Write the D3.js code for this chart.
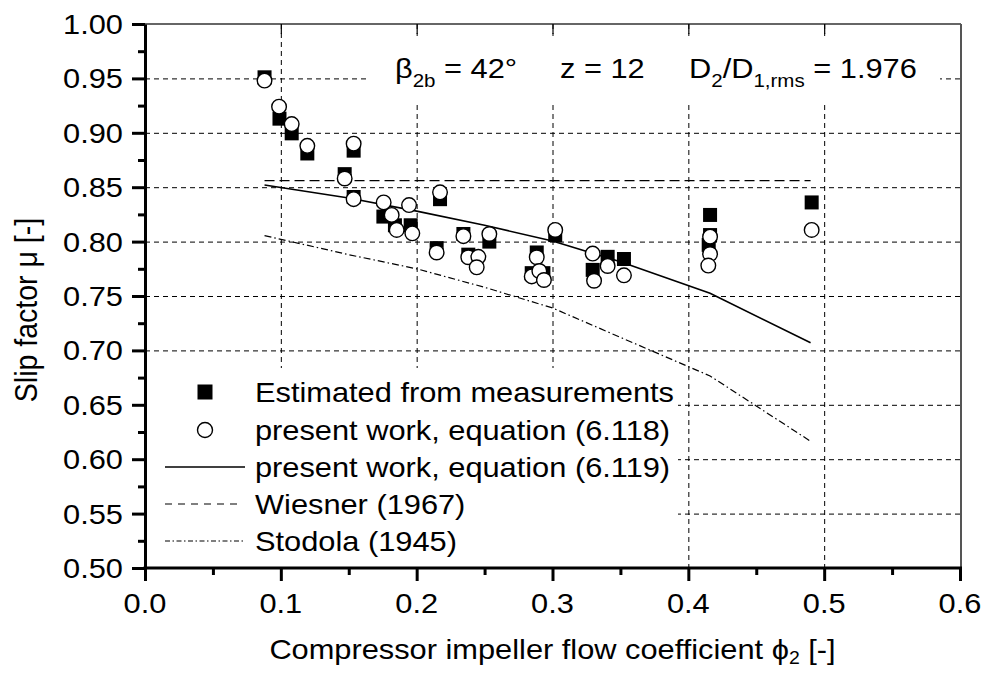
<!DOCTYPE html>
<html>
<head>
<meta charset="utf-8">
<script src="https://cdn.jsdelivr.net/npm/d3@7"></script>
<style>
  body { margin: 0; background: #fff; }
  text { font-family: Arial, "Liberation Sans", sans-serif; fill: #000; }
</style>
</head>
<body>
<svg id="chart" width="988" height="673"></svg>
<script>
// Slip factor estimated from measurements (filled squares)
const measuredPhi = [0.088, 0.099, 0.108, 0.1195, 0.147, 0.1536, 0.1536, 0.1755, 0.184, 0.1956,
  0.2172, 0.2147, 0.2344, 0.2535, 0.238, 0.2884, 0.2847, 0.2933, 0.302, 0.3296,
  0.3406, 0.3526, 0.416, 0.416, 0.415, 0.4908];
const measuredMu = [0.951, 0.913, 0.8995, 0.881, 0.862, 0.8836, 0.841, 0.823, 0.815, 0.815,
  0.839, 0.794, 0.807, 0.800, 0.788, 0.790, 0.771, 0.771, 0.806, 0.774,
  0.786, 0.784, 0.8245, 0.806, 0.797, 0.836];

// Equation (6.118) (open circles)
const eq118Phi = [0.088, 0.0987, 0.108, 0.1195, 0.147, 0.1536, 0.1536, 0.1757, 0.1816, 0.1853,
  0.1944, 0.1968, 0.2172, 0.2147, 0.2344, 0.2535, 0.238, 0.2454, 0.2442, 0.2884,
  0.2847, 0.2903, 0.2937, 0.302, 0.3296, 0.3306, 0.3406, 0.3526, 0.416, 0.416,
  0.4147, 0.4908];
const eq118Mu = [0.948, 0.924, 0.908, 0.888, 0.858, 0.890, 0.839, 0.836, 0.8245, 0.8107,
  0.8336, 0.8076, 0.8453, 0.790, 0.805, 0.807, 0.7856, 0.786, 0.7764, 0.7856,
  0.768, 0.773, 0.7647, 0.8107, 0.789, 0.764, 0.7776, 0.769, 0.8045, 0.7886,
  0.778, 0.8107];

// Equation (6.119) curve
const eq119Phi = [0.088, 0.15, 0.2, 0.25, 0.3, 0.35, 0.416, 0.49];
const eq119Mu = [0.852, 0.840, 0.828, 0.815, 0.8005, 0.7815, 0.7525, 0.707];

// Wiesner (1967)
const wiesnerPhi = [0.088, 0.49];
const wiesnerMu = [0.856, 0.856];

// Stodola (1945)
const stodolaPhi = [0.088, 0.15, 0.2, 0.25, 0.3, 0.35, 0.416, 0.49];
const stodolaMu = [0.8055, 0.788, 0.775, 0.758, 0.739, 0.712, 0.6765, 0.6165];

// Axis ticks
const xTicks = [0, 0.1, 0.2, 0.3, 0.4, 0.5, 0.6];
const xTickLabels = ["0.0", "0.1", "0.2", "0.3", "0.4", "0.5", "0.6"];
const yTicks = [0.50, 0.55, 0.60, 0.65, 0.70, 0.75, 0.80, 0.85, 0.90, 0.95, 1.00];
const yTickLabels = ["0.50", "0.55", "0.60", "0.65", "0.70", "0.75", "0.80", "0.85", "0.90", "0.95", "1.00"];
const xMinor = [0.05, 0.15, 0.25, 0.35, 0.45, 0.55];
const yMinor = [0.525, 0.575, 0.625, 0.675, 0.725, 0.775, 0.825, 0.875, 0.925, 0.975];

const legendLabels = [
  "Estimated from measurements",
  "present work, equation (6.118)",
  "present work, equation (6.119)",
  "Wiesner (1967)",
  "Stodola (1945)"
];

const SX = 1.08;   // glyph width factor
const FS = 28.5;   // base font size

const svg = d3.select("#chart");
const L = 145, R = 960, T = 24, B = 568;
const x = d3.scaleLinear().domain([0, 0.6]).range([L, R]);
const y = d3.scaleLinear().domain([0.5, 1.0]).range([B, T]);

function label(parent, px, py, txt, anchor, size) {
  return parent.append("text")
    .attr("transform", `translate(${px},${py}) scale(${SX},1)`)
    .attr("text-anchor", anchor || "start")
    .attr("font-size", size || FS)
    .text(txt);
}

// grid
const grid = svg.append("g").attr("stroke", "#000").attr("stroke-width", 1).attr("stroke-dasharray", "5,4");
grid.selectAll("line.h").data(yTicks.slice(1, -1)).join("line")
  .attr("x1", L).attr("x2", R).attr("y1", d => y(d) + 0.5).attr("y2", d => y(d) + 0.5);
grid.selectAll("line.v").data(xTicks.slice(1, -1)).join("line")
  .attr("y1", T).attr("y2", B).attr("x1", d => x(d) + 0.5).attr("x2", d => x(d) + 0.5);

// white panels behind annotation and legend
svg.append("rect").attr("x", 367).attr("y", 36).attr("width", 573).attr("height", 66).attr("fill", "#fff");
svg.append("rect").attr("x", L + 2).attr("y", 368).attr("width", 678 - L - 2).attr("height", B - 368 - 1).attr("fill", "#fff");

// curves
const line = d3.line().x(d => x(d[0])).y(d => y(d[1]));
svg.append("path").datum(d3.zip(stodolaPhi, stodolaMu)).attr("d", line)
  .attr("fill", "none").attr("stroke", "#000").attr("stroke-width", 1.2).attr("stroke-dasharray", "7,3,1.5,3");
svg.append("path").datum(d3.zip(wiesnerPhi, wiesnerMu)).attr("d", line)
  .attr("fill", "none").attr("stroke", "#000").attr("stroke-width", 1.3).attr("stroke-dasharray", "10,5");
svg.append("path").datum(d3.zip(eq119Phi, eq119Mu)).attr("d", line)
  .attr("fill", "none").attr("stroke", "#000").attr("stroke-width", 1.6);

// markers
const SQ = 14, CR = 7.3;
svg.append("g").selectAll("rect").data(d3.zip(measuredPhi, measuredMu)).join("rect")
  .attr("x", d => x(d[0]) - SQ / 2).attr("y", d => y(d[1]) - SQ / 2)
  .attr("width", SQ).attr("height", SQ).attr("fill", "#000");
svg.append("g").selectAll("circle").data(d3.zip(eq118Phi, eq118Mu)).join("circle")
  .attr("cx", d => x(d[0])).attr("cy", d => y(d[1])).attr("r", CR)
  .attr("fill", "#fff").attr("stroke", "#000").attr("stroke-width", 1.4);

// frame (top and right)
svg.append("line").attr("x1", L).attr("x2", R + 1).attr("y1", T).attr("y2", T).attr("stroke", "#333").attr("stroke-width", 1.5);
svg.append("line").attr("x1", R + 1).attr("x2", R + 1).attr("y1", T).attr("y2", B).attr("stroke", "#555").attr("stroke-width", 2);

// top axis ticks pointing inward
const topAxis = d3.axisBottom(x).tickValues(xTicks.slice(1, -1)).tickSize(10).tickFormat("");
svg.append("g").attr("transform", `translate(0,${T})`).call(topAxis)
  .call(g => g.select(".domain").remove())
  .selectAll("line").attr("stroke-width", 1.2);

// left axis
const leftAxis = d3.axisLeft(y).tickValues(yTicks).tickSize(13).tickSizeOuter(0).tickFormat("");
svg.append("g").attr("transform", `translate(${L},0)`).call(leftAxis)
  .call(g => g.select(".domain").attr("stroke-width", 3))
  .selectAll(".tick line").attr("stroke-width", 3);
const leftMinor = d3.axisLeft(y).tickValues(yMinor).tickSize(7).tickSizeOuter(0).tickFormat("");
svg.append("g").attr("transform", `translate(${L},0)`).call(leftMinor)
  .call(g => g.select(".domain").remove())
  .selectAll(".tick line").attr("stroke-width", 3);

// bottom axis
const bottomAxis = d3.axisBottom(x).tickValues(xTicks).tickSize(13).tickSizeOuter(0).tickFormat("");
svg.append("g").attr("transform", `translate(0,${B})`).call(bottomAxis)
  .call(g => g.select(".domain").attr("stroke-width", 3).attr("d", `M${L - 1.5},0H${R + 2}`))
  .selectAll(".tick line").attr("stroke-width", 3);
const bottomMinor = d3.axisBottom(x).tickValues(xMinor).tickSize(7).tickSizeOuter(0).tickFormat("");
svg.append("g").attr("transform", `translate(0,${B})`).call(bottomMinor)
  .call(g => g.select(".domain").remove())
  .selectAll(".tick line").attr("stroke-width", 3);

// tick labels
const labels = svg.append("g");
yTicks.forEach((v, i) => label(labels, L - 22, y(v) + 10, yTickLabels[i], "end"));
xTicks.forEach((v, i) => label(labels, x(v), B + 45, xTickLabels[i], "middle"));

// axis titles
const xt = label(svg, (L + R) / 2, 659, "Compressor impeller flow coefficient ", "middle");
xt.append("tspan").text("\u03d5");
xt.append("tspan").attr("font-size", 18).attr("dy", 5).text("2");
xt.append("tspan").attr("dy", -5).text(" [-]");

const yt = svg.append("text")
  .attr("transform", `translate(37,${(T + B) / 2 + 14}) rotate(-90) scale(1,${SX})`)
  .attr("text-anchor", "middle").attr("font-size", FS)
  .text("Slip factor ");
yt.append("tspan").text("\u03bc");
yt.append("tspan").text(" [-]");

// annotation
const a1 = label(svg, 395, 78, "\u03b2", "start");
a1.append("tspan").attr("font-size", 19).attr("dy", 9).text("2b");
a1.append("tspan").attr("dy", -9).text(" = 42\u00b0");
label(svg, 560, 78, "z = 12", "start");
const a3 = label(svg, 689, 78, "D", "start");
a3.append("tspan").attr("font-size", 19).attr("dy", 9).text("2");
a3.append("tspan").attr("dy", -9).text("/D");
a3.append("tspan").attr("font-size", 19).attr("dy", 9).text("1,rms");
a3.append("tspan").attr("dy", -9).text(" = 1.976");

// legend
const lg = svg.append("g");
const rowY = [392, 430, 467, 504, 541];
const symX = 205, txtX = 255;
lg.append("rect").attr("x", symX - 7.5).attr("y", rowY[0] - 7.5).attr("width", 15).attr("height", 15).attr("fill", "#000");
lg.append("circle").attr("cx", symX).attr("cy", rowY[1]).attr("r", 7.5)
  .attr("fill", "#fff").attr("stroke", "#000").attr("stroke-width", 1.4);
lg.append("line").attr("x1", 165).attr("x2", 245).attr("y1", rowY[2]).attr("y2", rowY[2])
  .attr("stroke", "#000").attr("stroke-width", 1.6);
lg.append("line").attr("x1", 165).attr("x2", 243).attr("y1", rowY[3]).attr("y2", rowY[3])
  .attr("stroke", "#000").attr("stroke-width", 1.2).attr("stroke-dasharray", "7,6");
lg.append("line").attr("x1", 165).attr("x2", 245).attr("y1", rowY[4]).attr("y2", rowY[4])
  .attr("stroke", "#000").attr("stroke-width", 1.2).attr("stroke-dasharray", "5,2.5,1.5,2.5");
legendLabels.forEach((t, i) => label(lg, txtX, rowY[i] + 10, t, "start"));
</script>
</body>
</html>
